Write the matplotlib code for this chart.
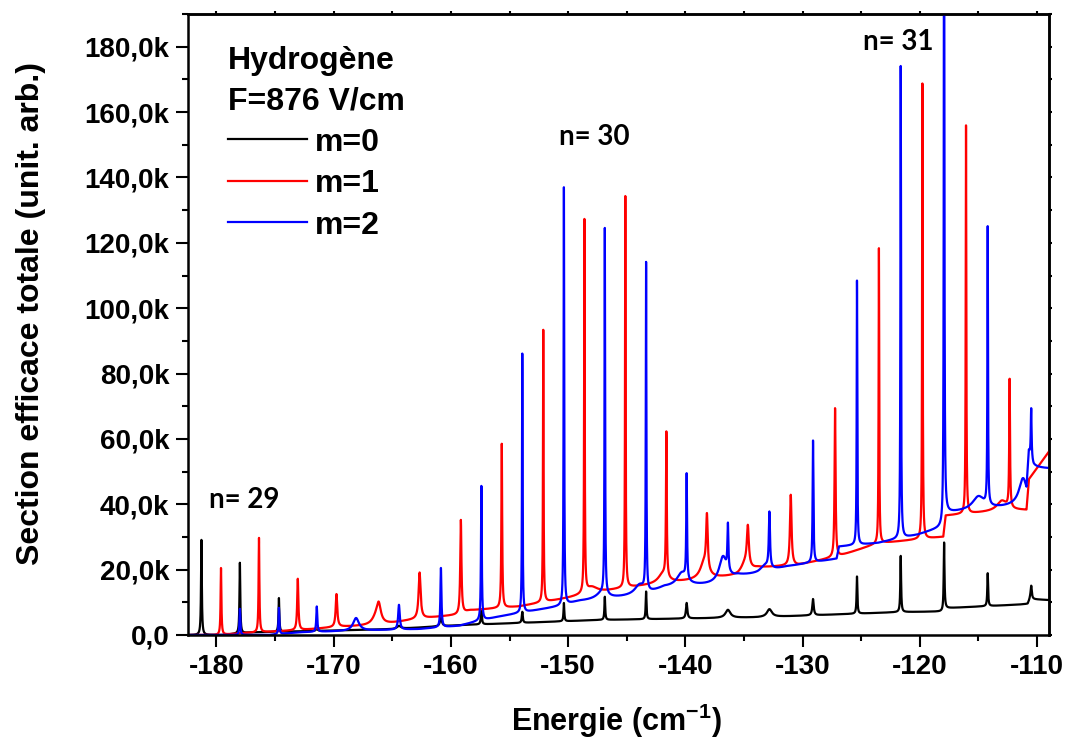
import numpy as np
import matplotlib
matplotlib.use("Agg")
import matplotlib.pyplot as plt
from matplotlib.ticker import MultipleLocator, FuncFormatter

# energy axis (cm-1) and cross-section values in units of 1000
X_MIN, X_MAX = -182.4, -109.0

# m=0 (black)
m0_peak_x = [-181.28, -178.0, -174.67, -171.44, -168.09, -164.43, -160.85, -157.40, -153.91, -150.36,
             -146.87, -143.35, -139.89, -136.37, -132.83, -129.11, -125.36, -121.63, -117.93, -114.21, -110.50]
m0_peak_h = [29.1, 22.1, 11.3, 2.0, 1.5, 2.8, 5.2, 7.7, 7.1, 9.8,
             11.7, 13.3, 9.8, 7.7, 7.9, 11.0, 17.9, 24.2, 28.3, 18.9, 15.1]
m0_peak_w = [0.04, 0.04, 0.04, 0.08, 0.2, 0.2, 0.1, 0.05, 0.05, 0.04,
             0.04, 0.04, 0.07, 0.25, 0.25, 0.07, 0.04, 0.04, 0.04, 0.04, 0.06]
m0_base_x = [X_MIN, -179.5, -177.0, -172.0, -165.0, -159.3, -147.4, -133.8, -121.8, -118.0, -117.85,
             -111.6, -110.8, -110.6, X_MAX]
m0_base_y = [0.0, 0.0, 0.8, 1.2, 1.8, 3.0, 4.6, 5.4, 7.0, 7.2, 8.2, 9.3, 9.5, 11.0, 10.7]
m0_hump_x = []
m0_hump_h = []
m0_hump_w = []

# m=1 (red)
m1_peak_x = [-179.61, -176.37, -173.06, -169.76, -166.16, -162.67, -159.15, -155.66, -152.12, -148.61,
             -145.12, -141.62, -138.16, -134.67, -131.01, -127.23, -123.49, -119.78, -116.06, -112.34]
m1_peak_h = [20.5, 29.7, 17.2, 12.5, 10.2, 19.1, 35.2, 58.5, 93.4, 127.3,
             134.3, 62.3, 37.3, 33.7, 42.9, 69.4, 118.4, 168.8, 156.0, 78.4]
m1_peak_w = [0.04, 0.04, 0.06, 0.08, 0.22, 0.1, 0.06, 0.04, 0.03, 0.03,
             0.03, 0.04, 0.08, 0.1, 0.08, 0.05, 0.03, 0.03, 0.03, 0.04]
m1_base_x = [X_MIN, -179.7, -178.0, -172.9, -169.5, -166.1, -162.7, -159.3, -158.4, -154.2, -152.1,
             -150.0, -147.4, -144.9, -142.3, -138.9, -135.5, -133.8, -130.4, -127.0, -123.6, -118.0,
             -117.8, -112.5, -110.9, -110.7, X_MAX]
m1_base_y = [0.0, 0.0, 0.5, 1.5, 2.5, 3.0, 5.0, 6.2, 7.5, 8.7, 10.0,
             11.3, 13.0, 14.5, 15.5, 16.8, 18.2, 20.5, 21.4, 24.0, 28.0, 30.0,
             36.5, 38.2, 38.2, 47.5, 56.0]
m1_hump_x = [-166.4, -148.0, -141.9, -138.4, -134.9, -113.0]
m1_hump_h = [2.0, 2.0, 3.0, 5.0, 3.0, 3.0]
m1_hump_w = [0.4, 0.6, 0.5, 0.4, 0.4, 0.5]

# m=2 (blue)
m2_peak_x = [-178.0, -174.67, -171.44, -168.09, -164.43, -160.85, -157.40, -153.91, -150.36, -146.87,
             -143.35, -139.89, -136.37, -132.83, -129.11, -125.36, -121.63, -117.93, -114.21, -110.50]
m2_peak_h = [8.0, 8.3, 8.7, 5.2, 9.2, 20.5, 45.6, 86.1, 137.1, 124.6,
             114.2, 49.5, 34.4, 37.8, 59.5, 108.5, 174.1, 260.0, 125.1, 69.4]
m2_peak_w = [0.04, 0.04, 0.05, 0.3, 0.08, 0.05, 0.04, 0.03, 0.03, 0.03,
             0.03, 0.04, 0.05, 0.06, 0.04, 0.03, 0.03, 0.03, 0.03, 0.04]
m2_base_x = [X_MIN, -175.5, -173.0, -162.7, -159.3, -157.6, -155.9, -152.5, -150.8, -149.1, -146.6,
             -143.2, -141.8, -137.0, -135.5, -133.8, -131.3, -127.1, -126.9, -123.6, -120.2, -118.0,
             -117.85, -113.0, -110.9, -110.7, -110.3, X_MAX]
m2_base_y = [0.0, 0.0, 0.8, 1.8, 2.8, 4.3, 5.6, 7.7, 8.7, 10.3, 11.0,
             12.5, 14.5, 15.5, 18.0, 18.6, 20.9, 23.3, 27.0, 28.1, 30.6, 33.0,
             37.3, 39.0, 40.0, 53.0, 50.8, 50.8]
m2_hump_x = [-147.1, -143.9, -140.3, -136.8, -133.2, -115.0, -111.2]
m2_hump_h = [2.0, 3.0, 4.0, 8.0, 2.0, 4.0, 8.0]
m2_hump_w = [0.6, 0.5, 0.5, 0.4, 0.5, 0.6, 0.4]

n_labels = ["n= 29", "n= 30", "n= 31"]
n_label_x = [-177.6, -147.8, -121.8]
n_label_y = [41.3, 152.5, 181.6]


def lorentz(x, x0, w):
    return w ** 2 / ((x - x0) ** 2 + w ** 2)


def build_spectrum(grid, base_x, base_y, peak_x, peak_h, peak_w, hump_x, hump_h, hump_w):
    background = np.interp(grid, base_x, base_y)
    for x0, h, w in zip(hump_x, hump_h, hump_w):
        background = background + h * lorentz(grid, x0, w)
    curve = background.copy()
    for x0, h, w in zip(peak_x, peak_h, peak_w):
        level = np.interp(x0, grid, background)
        curve = curve + (h - level) * lorentz(grid, x0, w)
    return curve * 1000.0


plt.rcParams["font.family"] = ["Liberation Sans", "DejaVu Sans"]
plt.rcParams["font.weight"] = "bold"
plt.rcParams["axes.unicode_minus"] = False
plt.rcParams["mathtext.fontset"] = "custom"
plt.rcParams["mathtext.rm"] = "Liberation Sans:bold"
plt.rcParams["mathtext.bf"] = "Liberation Sans:bold"
plt.rcParams["mathtext.default"] = "bf"

grid = np.linspace(X_MIN, X_MAX, 40001)
series = [
    ("m=0", "#000000", m0_base_x, m0_base_y, m0_peak_x, m0_peak_h, m0_peak_w, m0_hump_x, m0_hump_h, m0_hump_w),
    ("m=1", "#ff0000", m1_base_x, m1_base_y, m1_peak_x, m1_peak_h, m1_peak_w, m1_hump_x, m1_hump_h, m1_hump_w),
    ("m=2", "#0000ff", m2_base_x, m2_base_y, m2_peak_x, m2_peak_h, m2_peak_w, m2_hump_x, m2_hump_h, m2_hump_w),
]

fig, ax = plt.subplots(figsize=(10.68, 7.4), dpi=100)
fig.subplots_adjust(left=0.1763, right=0.982, top=0.981, bottom=0.1419)

for label, color, *params in series:
    ax.plot(grid, build_spectrum(grid, *params), color=color, lw=1.6, label=label)

ax.set_xlim(X_MIN, X_MAX)
ax.set_ylim(0, 190000)

ax.xaxis.set_major_locator(MultipleLocator(10))
ax.xaxis.set_minor_locator(MultipleLocator(5))
ax.yaxis.set_major_locator(MultipleLocator(20000))
ax.yaxis.set_minor_locator(MultipleLocator(10000))
ax.yaxis.set_major_formatter(FuncFormatter(
    lambda v, _: "0,0" if v == 0 else f"{v / 1000:.1f}k".replace(".", ",")))
ax.tick_params(which="major", direction="out", length=8.6, width=1.5, labelsize=20, pad=5)
ax.tick_params(which="minor", direction="out", length=4.3, width=1.5)
for spine in ax.spines.values():
    spine.set_linewidth(1.8)

top = ax.secondary_xaxis("top")
top.xaxis.set_major_locator(MultipleLocator(10))
top.xaxis.set_minor_locator(MultipleLocator(5))
top.tick_params(which="both", direction="out", length=2.2, width=1.5, labeltop=False)
right = ax.secondary_yaxis("right")
right.yaxis.set_major_locator(MultipleLocator(20000))
right.yaxis.set_minor_locator(MultipleLocator(10000))
right.tick_params(which="both", direction="out", length=2.2, width=1.5, labelright=False)
top.spines["top"].set_linewidth(1.8)
right.spines["right"].set_linewidth(1.8)

ax.set_xlabel(r"Energie (cm$^{-1}$)", fontsize=22, fontweight="bold")
ax.xaxis.set_label_coords(0.498, -0.107)
ax.set_ylabel("Section efficace totale (unit. arb.)", fontsize=23, fontweight="bold")
ax.yaxis.set_label_coords(-0.165, 0.518)

for text, tx, ty in zip(n_labels, n_label_x, n_label_y):
    ax.text(tx, ty * 1000, text, fontsize=20, fontweight="bold", family=["Lato", "DejaVu Sans"],
            ha="center", va="center")

legend = ax.legend(loc="upper left", bbox_to_anchor=(0.046, 0.948), frameon=False,
                   title="Hydrogène\nF=876 V/cm", alignment="left",
                   title_fontproperties={"weight": "bold", "size": 23},
                   prop={"weight": "bold", "size": 23},
                   handlelength=2.47, handletextpad=0.25, labelspacing=0.36,
                   borderpad=0, borderaxespad=0)
legend.get_title().set_linespacing(1.42)

fig.savefig("out.png", dpi=100)
